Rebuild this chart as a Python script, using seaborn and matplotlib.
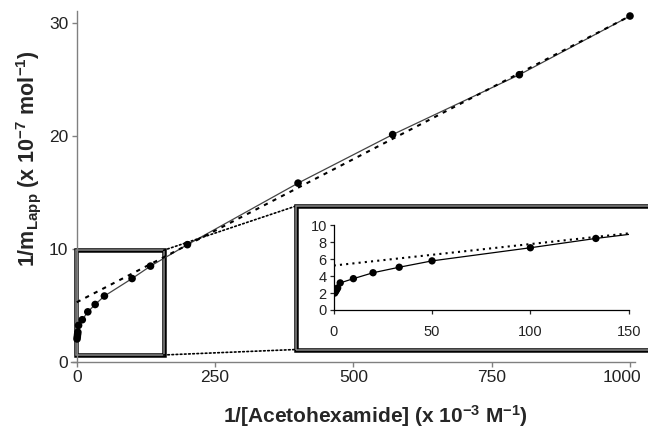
import numpy as np
import pandas as pd
import matplotlib
matplotlib.use("Agg")
import matplotlib.pyplot as plt
import matplotlib.transforms as mtransforms
import seaborn as sns
from matplotlib.patches import Rectangle
from matplotlib.patches import ConnectionPatch

# 1/[Acetohexamide] (x 10^-3 M^-1) and 1/m_Lapp (x 10^-7 mol^-1)
inv_conc = [0.5, 1.0, 1.5, 2.0, 3.3, 10, 20, 33.3, 50, 100, 133.3, 200, 400, 571, 800, 1000]
inv_mlapp = [2.0, 2.2, 2.4, 2.6, 3.2, 3.7, 4.4, 5.05, 5.8, 7.35, 8.45, 10.35, 15.8, 20.1, 25.4, 30.6]

# linear fit through the high-x points
fit_x = [0, 1000]
fit_y = [5.25, 30.6]

main_xticks = [0, 250, 500, 750, 1000]
main_yticks = [0, 10, 20, 30]
inset_xticks = [0, 50, 100, 150]
inset_yticks = [0, 2, 4, 6, 8, 10]

df = pd.DataFrame({"x": inv_conc, "y": inv_mlapp})
fit = pd.DataFrame({"x": fit_x, "y": fit_y})

sns.set_style("ticks")
plt.rcParams["font.family"] = ["Liberation Sans", "DejaVu Sans"]
plt.rcParams["mathtext.fontset"] = "custom"
plt.rcParams["mathtext.rm"] = "Liberation Sans:bold"
plt.rcParams["mathtext.default"] = "rm"

fig = plt.figure(figsize=(6.48, 4.29), dpi=100)
ax = fig.add_axes([0.1099, 0.1573, 0.870, 0.8159])

sns.lineplot(data=df, x="x", y="y", ax=ax, color="#444444", lw=0.9,
             sort=False, estimator=None, zorder=3)
sns.scatterplot(data=df, x="x", y="y", ax=ax, color="black", s=30,
                edgecolor="none", zorder=4)
sns.lineplot(data=fit, x="x", y="y", ax=ax, color="black", lw=1.5,
             dashes=False, zorder=3).lines[-1].set_dashes((2, 2.6))

ax.set_xlim(-10, 1009)
ax.set_ylim(0, 31)
ax.set_xticks(main_xticks)
ax.set_yticks(main_yticks)
ax.spines["left"].set_position(("data", 0))
for s in ["top", "right"]:
    ax.spines[s].set_visible(False)
for s in ["left", "bottom"]:
    ax.spines[s].set_color("#808080")
    ax.spines[s].set_linewidth(1.0)
ax.tick_params(axis="both", labelsize=12.5, color="#808080", length=3.5,
               width=1.0, pad=2.5, labelcolor="#222222")
# the last x label sits a little left of its tick in the reference
last = ax.get_xticklabels()[-1]
last.set_transform(last.get_transform() +
                   mtransforms.ScaledTranslation(-6 / 72, 0, fig.dpi_scale_trans))

ax.set_xlabel("1/[Acetohexamide] (x 10$^{-3}$ M$^{-1}$)", fontsize=15,
              fontweight="bold")
ax.set_ylabel("1/m$_{Lapp}$ (x 10$^{-7}$ mol$^{-1}$)", fontsize=15.5,
              fontweight="bold")
ax.xaxis.set_label_coords(0.54, -0.118)
ax.yaxis.set_label_coords(-0.05, 0.58)

# zoom rectangle on the main plot
for lw, col in [(4.5 * 0.72, "black"), (1.5 * 0.72, "#8a8a8a")]:
    ax.add_patch(Rectangle((-1, 0.58), 158, 9.27, fill=False, lw=lw,
                           edgecolor=col, zorder=2, clip_on=False))

# frame around the inset
fx0, fy0, fy1 = 0.4568, 0.1853, 0.5198
for lw, col, fc in [(4.5 * 0.72, "black", "white"), (1.5 * 0.72, "#8a8a8a", "none")]:
    fig.add_artist(Rectangle((fx0, fy0), 0.7, fy1 - fy0, transform=fig.transFigure,
                             lw=lw, edgecolor=col, facecolor=fc, zorder=2))

# dotted connectors
for y_data, y_fig in [(9.85, fy1), (0.58, fy0)]:
    con = ConnectionPatch(xyA=(157, y_data), coordsA=ax.transData,
                          xyB=(fx0, y_fig), coordsB=fig.transFigure,
                          color="black", lw=1.2, linestyle=(0, (1, 1.5)))
    con.set_zorder(1.5)
    fig.add_artist(con)

# inset
axin = fig.add_axes([0.515, 0.2774, 0.4552, 0.1974], zorder=3)
axin.patch.set_alpha(0)
sns.lineplot(data=df, x="x", y="y", ax=axin, color="black", lw=0.9,
             sort=False, estimator=None, zorder=3)
sns.scatterplot(data=df, x="x", y="y", ax=axin, color="black", s=28,
                edgecolor="none", zorder=4)
sns.lineplot(data=fit, x="x", y="y", ax=axin, color="black", lw=1.5,
             dashes=False, zorder=3).lines[-1].set_dashes((1, 2))
axin.set_xlim(0, 150)
axin.set_ylim(0, 10)
axin.set_xticks(inset_xticks)
axin.set_yticks(inset_yticks)
axin.set_xlabel("")
axin.set_ylabel("")
for s in ["top", "right"]:
    axin.spines[s].set_visible(False)
for s in ["left", "bottom"]:
    axin.spines[s].set_color("black")
    axin.spines[s].set_linewidth(0.9)
axin.tick_params(axis="both", labelsize=10.5, length=3, width=0.9, pad=2,
                 labelcolor="#222222")
axin.tick_params(axis="x", pad=8)

fig.savefig("out.png", dpi=100)
